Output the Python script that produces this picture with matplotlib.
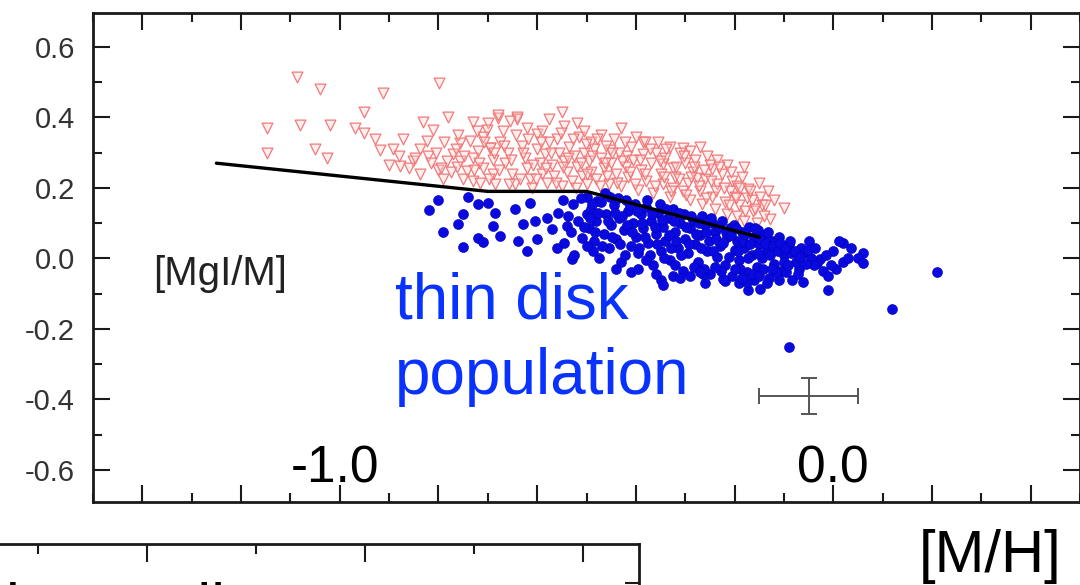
import matplotlib
matplotlib.use("Agg")
import matplotlib.pyplot as plt
from matplotlib.ticker import MultipleLocator, FixedLocator, NullFormatter

plt.rcParams['font.family'] = ['Liberation Sans', 'DejaVu Sans']

# ---------------- data ----------------
# thick-disk-like stars: open red triangles ([M/H], [MgI/M])
red_x = [-1.087, -1.04, -0.913, -0.799, -0.95, -1.148, -1.081, -1.02, -0.97, -0.95, -0.929,
         -1.148, -1.051, -1.026, -0.919, -0.892, -0.872, -0.832, -0.811, -0.781, -0.824, -0.838,
         -0.822, -0.878, -0.852, -0.838, -0.73, -0.70, -0.68, -0.702, -0.696, -0.736, -0.756,
         -0.77, -0.783, -0.756, -0.73, -0.71, -0.742, -0.791, -0.73, -0.69, -0.64,
         -0.68, -0.64, -0.519, -0.49, -0.385, -0.696, -0.60, -0.56, -0.452, -0.418,
         -0.381, -0.304, -0.256, -0.245, -0.345, -0.172, -0.132, -0.10, -0.162, -0.128, -0.209,
         -0.276, -0.325,
         -0.675, -0.66, -0.665, -0.65, -0.645, -0.63, -0.625, -0.62, -0.615, -0.61, -0.6, -0.595,
         -0.59, -0.585, -0.58,
         -0.575, -0.57, -0.565, -0.555, -0.55, -0.545, -0.54, -0.535, -0.53, -0.525, -0.52,
         -0.515, -0.51, -0.505, -0.5,
         -0.495, -0.49, -0.485, -0.48, -0.47, -0.465, -0.46, -0.455, -0.45, -0.44, -0.435,
         -0.43, -0.42, -0.415, -0.41, -0.405,
         -0.395, -0.39, -0.385, -0.38, -0.37, -0.365, -0.36, -0.35, -0.345, -0.34, -0.33,
         -0.325, -0.32, -0.31, -0.305, -0.3,
         -0.295, -0.29, -0.285, -0.28, -0.27, -0.265, -0.26, -0.25, -0.245, -0.24, -0.235,
         -0.225, -0.22, -0.215, -0.205, -0.2,
         -0.195, -0.19, -0.185, -0.18, -0.175, -0.165, -0.155, -0.15, -0.145, -0.14, -0.12,
         -0.86, -0.80, -0.775, -0.765, -0.75, -0.72, -0.715, -0.71, -0.69, -0.685, -0.67,
         -0.655, -0.62, -0.59, -0.575, -0.545, -0.55, -0.505, -0.47, -0.445, -0.43, -0.40,
         -0.355, -0.33, -0.29, -0.27, -0.235, -0.215, -0.18, -0.195, -0.9, -0.88,
         -0.718, -0.708, -0.698, -0.688, -0.678, -0.668, -0.658, -0.652, -0.642, -0.635, -0.628,
         -0.618, -0.608, -0.602, -0.592, -0.582, -0.572, -0.562, -0.552, -0.548, -0.538, -0.528,
         -0.522, -0.512, -0.502, -0.498, -0.488, -0.478, -0.472, -0.462, -0.458, -0.448, -0.438,
         -0.428, -0.422, -0.412, -0.402,
         -0.392, -0.382, -0.372, -0.362, -0.352, -0.342, -0.338, -0.328, -0.318, -0.312, -0.302,
         -0.298, -0.288, -0.282, -0.272, -0.262, -0.258, -0.248, -0.238, -0.232, -0.222, -0.212,
         -0.208, -0.198, -0.188, -0.178, -0.168, -0.158, -0.148, -0.138,
         -0.848, -0.815, -0.805, -0.795, -0.788, -0.762, -0.748, -0.728, -0.722, -0.76]
red_y = [0.514, 0.48, 0.469, 0.497, 0.414, 0.369, 0.377, 0.377, 0.369, 0.357, 0.34,
         0.30, 0.311, 0.286, 0.306, 0.311, 0.34, 0.386, 0.363, 0.40, 0.334, 0.311,
         0.291, 0.263, 0.277, 0.24, 0.386, 0.383, 0.397, 0.363, 0.314, 0.334, 0.326,
         0.297, 0.277, 0.277, 0.286, 0.257, 0.249, 0.226, 0.22, 0.24, 0.40,
         0.406, 0.394, 0.383, 0.329, 0.329, 0.314, 0.354, 0.34, 0.306, 0.291,
         0.329, 0.314, 0.291, 0.254, 0.269, 0.197, 0.191, 0.143, 0.134, 0.111, 0.191,
         0.229, 0.20,
         0.33, 0.30, 0.27, 0.24, 0.21, 0.32, 0.285, 0.255, 0.225, 0.20, 0.31, 0.27,
         0.24, 0.295, 0.215,
         0.33, 0.265, 0.235, 0.30, 0.205, 0.275, 0.245, 0.315, 0.22, 0.29, 0.26,
         0.345, 0.235, 0.30, 0.21,
         0.275, 0.245, 0.31, 0.225, 0.285, 0.255, 0.32, 0.21, 0.27, 0.24, 0.30,
         0.205, 0.26, 0.23, 0.315, 0.28,
         0.195, 0.25, 0.295, 0.22, 0.27, 0.185, 0.30, 0.24, 0.21, 0.285, 0.175,
         0.255, 0.23, 0.30, 0.19, 0.27,
         0.215, 0.165, 0.245, 0.28, 0.19, 0.155, 0.225, 0.265, 0.175, 0.14, 0.21,
         0.24, 0.16, 0.125, 0.22, 0.175,
         0.12, 0.15, 0.23, 0.105, 0.17, 0.165, 0.10, 0.215, 0.15, 0.12, 0.165,
         0.255, 0.25, 0.245, 0.31, 0.225, 0.305, 0.215, 0.345, 0.28, 0.21, 0.36,
         0.39, 0.37, 0.36, 0.395, 0.375, 0.415, 0.36, 0.35, 0.34, 0.37, 0.345,
         0.33, 0.315, 0.305, 0.315, 0.28, 0.265, 0.26, 0.205, 0.265, 0.29,
         0.27, 0.33, 0.225, 0.30, 0.25, 0.32, 0.21, 0.28, 0.35, 0.225, 0.30,
         0.34, 0.265, 0.225, 0.33, 0.255, 0.30, 0.215, 0.355, 0.26, 0.285, 0.34,
         0.20, 0.27, 0.325, 0.24, 0.29, 0.34, 0.205, 0.27, 0.235, 0.30, 0.215,
         0.275, 0.33, 0.245, 0.21,
         0.28, 0.24, 0.31, 0.205, 0.275, 0.23, 0.31, 0.19, 0.26, 0.225, 0.29,
         0.18, 0.23, 0.26, 0.205, 0.25, 0.17, 0.22, 0.19, 0.26, 0.20, 0.15,
         0.245, 0.17, 0.20, 0.135, 0.19, 0.14, 0.175, 0.15,
         0.285, 0.27, 0.30, 0.255, 0.33, 0.26, 0.29, 0.25, 0.36, 0.35]

# thin-disk stars: filled blue dots
blue_x = [-0.801, -0.82, -0.79, -0.76, -0.75, -0.74, -0.75, -0.72, -0.70, -0.72, -0.71, -0.69,
          -0.686, -0.675, -0.645, -0.639, -0.629, -0.62, -0.615, -0.60, -0.604, -0.58, -0.57,
          -0.56, -0.558, -0.54, -0.53, -0.527, -0.509, -0.50, -0.487, -0.479,
          -0.498, -0.495, -0.49, -0.485, -0.48, -0.475, -0.47, -0.465, -0.46, -0.455, -0.45, -0.452,
          -0.445, -0.44, -0.435, -0.43, -0.425, -0.42, -0.415, -0.41, -0.405, -0.40, -0.402,
          -0.395, -0.39, -0.385, -0.38, -0.375, -0.37, -0.365, -0.36, -0.355, -0.35, -0.352,
          -0.345, -0.34, -0.335, -0.33, -0.325, -0.32, -0.315, -0.31, -0.305, -0.30, -0.302,
          -0.295, -0.29, -0.285, -0.28, -0.275, -0.27, -0.265, -0.26, -0.255, -0.25, -0.252,
          -0.245, -0.24, -0.235, -0.23, -0.225, -0.22, -0.215, -0.21, -0.205, -0.20, -0.202,
          -0.195, -0.19, -0.185, -0.18, -0.175, -0.17, -0.165, -0.16, -0.155, -0.15, -0.152,
          -0.145, -0.14, -0.135, -0.13, -0.125, -0.12, -0.115, -0.11, -0.105, -0.10,
          -0.05, 0.02, 0.061, 0.05, 0.061, 0.0, 0.02, -0.01, 0.211, 0.12, -0.061, -0.083,
          -0.07, -0.026, -0.02, -0.01, -0.06, -0.1, -0.09, -0.12, -0.148, -0.172, -0.032, -0.09,
          -0.085, -0.075, -0.065, -0.045, -0.04, -0.095, -0.11, -0.135, -0.16, -0.19, -0.22,
          -0.26, -0.29, -0.35, -0.36, -0.41, -0.345, -0.325, -0.264, -0.223, -0.175,
          -0.548, -0.545, -0.538, -0.532, -0.525, -0.518, -0.512, -0.505, -0.5, -0.493, -0.488,
          -0.482, -0.476, -0.468, -0.462, -0.457, -0.448, -0.443, -0.437, -0.432,
          -0.428, -0.422, -0.418, -0.412, -0.407, -0.398, -0.393, -0.388, -0.382, -0.377, -0.372,
          -0.367, -0.362, -0.357, -0.348, -0.343, -0.338, -0.333, -0.328, -0.323,
          -0.318, -0.313, -0.308, -0.298, -0.293, -0.288, -0.283, -0.278, -0.273, -0.268, -0.262,
          -0.257, -0.248, -0.243, -0.238, -0.232, -0.228, -0.223, -0.218, -0.212,
          -0.208, -0.198, -0.193, -0.188, -0.183, -0.178, -0.172, -0.168, -0.162, -0.158, -0.153,
          -0.148, -0.142, -0.138, -0.132, -0.128, -0.122, -0.117, -0.112, -0.107,
          -0.098, -0.092, -0.087, -0.078, -0.072, -0.067, -0.055, -0.052, -0.037, -0.015, 0.005,
          0.03, 0.035, 0.012, -0.005,
          -0.44, -0.395, -0.38, -0.32, -0.31, -0.27, -0.24, -0.2, -0.185, -0.15, -0.125]
blue_y = [0.166, 0.137, 0.074, 0.097, 0.126, 0.174, 0.031, 0.154, 0.157, 0.057, 0.046, 0.091,
          0.129, 0.063, 0.14, 0.049, 0.097, 0.02, 0.157, 0.054, 0.106, 0.114, 0.083,
          0.029, 0.129, 0.091, -0.003, 0.154, 0.057, 0.126, 0.02, 0.163,
          0.175, 0.085, 0.14, 0.05, 0.105, 0.0, 0.16, 0.07, 0.125, 0.03, 0.095, 0.175,
          0.15, 0.055, 0.115, -0.01, 0.08, 0.165, 0.135, 0.035, 0.10, 0.06, 0.155,
          0.015, 0.125, 0.085, 0.145, 0.045, 0.105, -0.02, 0.07, 0.13, 0.02, 0.155,
          0.09, 0.05, 0.115, -0.005, 0.14, 0.075, 0.03, 0.10, -0.035, 0.055, 0.125,
          0.015, 0.085, 0.11, 0.04, -0.01, 0.065, 0.12, 0.095, 0.02, -0.045, 0.05,
          0.10, 0.075, 0.005, 0.035, 0.105, -0.02, 0.06, 0.085, -0.05, 0.025, 0.095,
          0.05, -0.005, 0.075, 0.03, -0.04, 0.09, 0.01, 0.06, -0.025, 0.04, 0.08,
          0.0, 0.065, 0.025, -0.055, 0.05, -0.015, 0.03, 0.06, -0.035, 0.01,
          0.049, 0.043, 0.014, 0.0, -0.014, 0.02, -0.009, -0.089, -0.04, -0.143, -0.066, -0.06,
          -0.029, -0.003, -0.037, -0.051, 0.014, -0.009, 0.04, 0.043, -0.086, -0.089, -0.014, -0.251,
          0.015, -0.01, 0.03, 0.0, -0.02, -0.04, -0.06, -0.07, -0.06, -0.07, -0.065,
          -0.07, -0.05, -0.06, -0.045, -0.04, -0.075, -0.05, -0.044, -0.058, -0.066,
          0.165, 0.045, 0.12, 0.075, 0.01, 0.105, 0.17, 0.09, 0.035, 0.115, 0.155,
          0.075, 0.13, 0.035, 0.185, 0.105, 0.06, 0.13, 0.17, 0.04,
          0.12, 0.01, 0.095, 0.15, 0.075, 0.135, 0.03, 0.10, 0.06, 0.165, 0.01,
          0.125, 0.09, 0.04, 0.11, 0.0, 0.14, 0.065, 0.03, 0.105,
          0.05, 0.13, 0.01, 0.09, 0.04, 0.12, -0.025, 0.07, 0.10, 0.03, -0.03,
          0.075, 0.115, 0.02, 0.055, 0.09, -0.035, 0.045, 0.075, 0.005,
          0.065, 0.085, 0.02, -0.03, 0.05, 0.07, 0.0, 0.04, -0.045, 0.085, 0.015,
          0.055, -0.03, 0.04, 0.075, 0.01, 0.035, -0.04, 0.02, 0.045,
          0.03, -0.02, 0.05, 0.02, -0.045, 0.005, -0.015, 0.025, 0.03, 0.01, -0.03,
          0.0, 0.03, 0.05, -0.02,
          -0.03, -0.03, -0.005, -0.02, -0.055, -0.04, -0.025, -0.03, -0.055, -0.05, -0.03]

# separating line
line_x = [-1.25, -0.70, -0.60, -0.50, -0.15]
line_y = [0.27, 0.19, 0.19, 0.19, 0.06]

# typical error bar
err_x, err_y = -0.05, -0.39
err_dx, err_dy = 0.10, 0.05

# ---------------- figure ----------------
W, H = 1080, 585
fig = plt.figure(figsize=(W / 100, H / 100), dpi=100)
ax = fig.add_axes([93 / W, 1 - 502 / H, (W - 93) / W, (502 - 13) / H])
ax.set_xlim(-1.5, 0.5)
ax.set_ylim(-0.691, 0.696)

ax.scatter(red_x, red_y, marker='v', s=60, facecolors=[(1.0, 0.82, 0.82, 0.35)],
           edgecolors='#f07a7a', linewidths=0.9, zorder=2)
ax.scatter(blue_x, blue_y, marker='o', s=52, color='#0a0ae0', edgecolors='#0000b0',
           linewidths=0.4, zorder=3)
ax.plot(line_x, line_y, color='black', lw=2.4, zorder=4, solid_capstyle='round')
ax.errorbar([err_x], [err_y], xerr=[err_dx], yerr=[err_dy], fmt='none', ecolor='#555555',
            elinewidth=1.4, capsize=6, capthick=1.4, zorder=4)

# axes styling
for s in ax.spines.values():
    s.set_linewidth(2.0)
    s.set_color('#1a1a1a')
ax.xaxis.set_major_locator(MultipleLocator(0.2))
ax.xaxis.set_minor_locator(MultipleLocator(0.1))
ax.yaxis.set_major_locator(MultipleLocator(0.2))
ax.yaxis.set_minor_locator(MultipleLocator(0.1))
ax.xaxis.set_major_formatter(NullFormatter())
ax.tick_params(axis='both', which='major', direction='in', length=12, width=1.5,
               top=True, right=True, color='#1a1a1a')
ax.tick_params(axis='both', which='minor', direction='in', length=6.5, width=1.5,
               top=True, right=True, color='#1a1a1a')
ax.tick_params(axis='y', which='major', labelsize=21, labelcolor='#333333', pad=13)
ax.set_yticks([-0.6, -0.4, -0.2, 0.0, 0.2, 0.4, 0.6])
ax.set_yticklabels(['-0.6', '-0.4', '-0.2', '0.0', '0.2', '0.4', '0.6'])

# in-panel labels
ax.text(-1.01, -0.637, '-1.0', fontsize=37, ha='center', va='baseline', color='black')
ax.text(0.0, -0.637, '0.0', fontsize=37, ha='center', va='baseline', color='black')
ax.text(-1.243, -0.044, '[MgI/M]', fontsize=29, ha='center', va='center', color='#222222')
ax.text(-0.888, -0.171, 'thin disk', fontsize=46, ha='left', va='baseline', color='#0a32ff')
ax.text(-0.888, -0.386, 'population', fontsize=46, ha='left', va='baseline', color='#0a32ff')

fig.text(990 / W, 1 - 572 / H, '[M/H]', fontsize=43, ha='center', va='baseline', color='black')

# partial panel below
ax2 = fig.add_axes([0, -0.5, 639 / W, 0.5 + (1 - 544 / H)])
ax2.set_xlim(-1.337, 0.128)
ax2.set_ylim(0, 1)
ax2.patch.set_alpha(0)
ax2.spines['left'].set_visible(False)
ax2.spines['bottom'].set_visible(False)
for s in ('top', 'right'):
    ax2.spines[s].set_linewidth(2.0)
    ax2.spines[s].set_color('#1a1a1a')
ax2.xaxis.set_major_locator(MultipleLocator(0.5))
ax2.xaxis.set_minor_locator(MultipleLocator(0.25))
ax2.yaxis.set_major_locator(FixedLocator([0.884]))
ax2.tick_params(axis='x', which='both', top=True, bottom=False, labeltop=False,
                labelbottom=False, direction='in', width=1.5, color='#1a1a1a')
ax2.tick_params(axis='x', which='major', length=13)
ax2.tick_params(axis='x', which='minor', length=7)
ax2.tick_params(axis='y', which='both', left=False, right=True, labelleft=False,
                direction='in', length=10, width=1.5, color='#1a1a1a')

# cropped caption of the panel below: only the tops of tall letters show
fig.text(6 / W, 1 - 628 / H, 'ity gradient', fontsize=45, ha='left', va='baseline',
         color='black')

fig.savefig('out.png', dpi=100)
